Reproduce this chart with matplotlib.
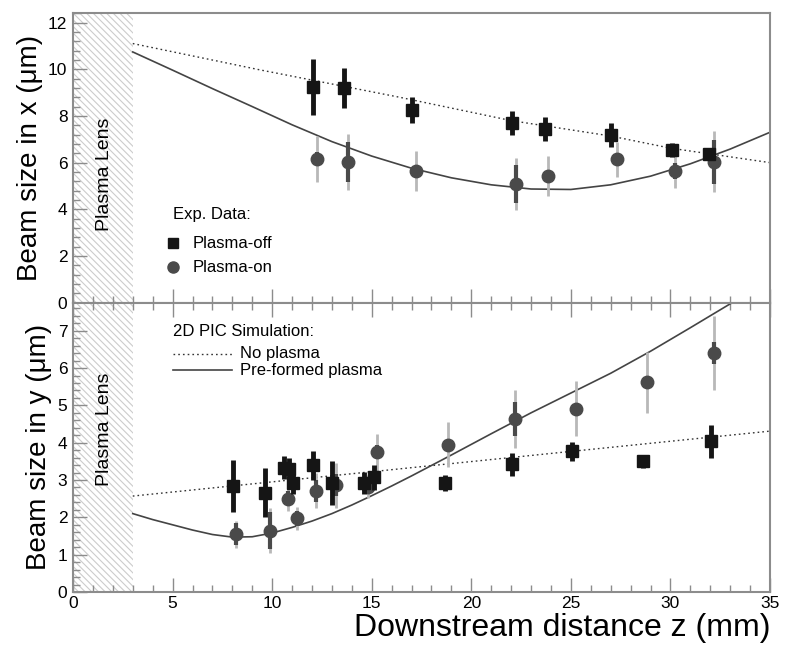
import numpy as np
import matplotlib.pyplot as plt
from matplotlib.ticker import MultipleLocator

plt.rcParams['font.family'] = ['Liberation Sans', 'DejaVu Sans']

# --- top panel: beam size in x ---
x_off_z = [12.06, 13.6, 17.0, 22.06, 23.7, 27.0, 30.1, 31.96]
x_off_y = [9.24, 9.2, 8.25, 7.7, 7.44, 7.18, 6.54, 6.36]
x_off_err = [1.2, 0.85, 0.55, 0.5, 0.5, 0.5, 0.3, 0.25]

x_on_z = [12.26, 13.8, 17.2, 22.26, 23.87, 27.3, 30.25, 32.2]
x_on_y = [6.16, 6.03, 5.64, 5.08, 5.43, 6.14, 5.63, 6.04]
x_on_err_sys = [0.97, 1.2, 0.85, 1.1, 0.85, 0.75, 0.7, 1.3]
x_on_err_stat = [0.3, 0.85, 0.2, 0.8, 0.25, 0.2, 0.35, 0.95]

x_sim_noplasma_z = [3, 9.4, 16.4, 22, 27, 30, 35]
x_sim_noplasma = [11.1, 9.97, 8.8, 7.8, 7.14, 6.62, 6.0]
x_sim_plasma_z = [3, 5, 7, 9, 11, 13, 15, 17, 19, 21, 23, 25, 27, 29, 31, 33, 35]
x_sim_plasma = [10.74, 9.96, 9.17, 8.4, 7.62, 6.9, 6.28, 5.76, 5.35, 5.05, 4.87, 4.85, 5.05, 5.42, 5.95, 6.58, 7.3]

# --- bottom panel: beam size in y ---
y_off_z = [8.05, 9.62, 10.6, 10.85, 11.05, 12.04, 13.0, 14.62, 15.12, 18.66, 22.05, 25.07, 28.64, 32.05]
y_off_y = [2.84, 2.66, 3.33, 3.3, 2.93, 3.4, 2.92, 2.92, 3.07, 2.92, 3.42, 3.77, 3.5, 4.04]
y_off_err = [0.7, 0.66, 0.3, 0.3, 0.3, 0.39, 0.58, 0.3, 0.33, 0.22, 0.3, 0.26, 0.18, 0.44]

y_on_z = [8.18, 9.87, 10.8, 11.24, 12.2, 13.23, 14.8, 15.24, 18.82, 22.2, 25.25, 28.8, 32.2]
y_on_y = [1.55, 1.64, 2.5, 1.97, 2.71, 2.86, 2.82, 3.75, 3.95, 4.63, 4.91, 5.62, 6.4]
y_on_err_sys = [0.36, 0.6, 0.34, 0.3, 0.47, 0.6, 0.31, 0.47, 0.6, 0.78, 0.73, 0.82, 1.0]
y_on_err_stat = [0.3, 0.5, 0.2, 0.2, 0.3, 0.3, 0.2, 0.2, 0.15, 0.45, 0.1, 0.1, 0.3]

y_sim_noplasma_z = [3, 35]
y_sim_noplasma = [2.57, 4.31]
y_sim_plasma_z = [3, 4, 5, 6, 7, 8, 9, 10, 11, 12, 13, 14, 15, 16, 17, 19, 21, 23, 25, 27, 29, 31, 33, 35]
y_sim_plasma = [2.1, 1.94, 1.8, 1.66, 1.54, 1.47, 1.48, 1.58, 1.73, 1.9, 2.1, 2.33, 2.58, 2.84, 3.11,
                3.67, 4.24, 4.8, 5.33, 5.86, 6.45, 7.08, 7.72, 8.35]

frame_col = '#8c8c8c'
sq_col = '#151515'
ci_col = '#4a4a4a'
light_col = '#b8b8b8'

fig = plt.figure(figsize=(7.87, 6.46), dpi=100)
ax1 = fig.add_axes([0.0928, 0.5314, 0.8856, 0.4489])
ax2 = fig.add_axes([0.0928, 0.0836, 0.8856, 0.4478])


def style_axis(ax, ymax, ymajor, yminor):
    ax.set_xlim(0, 35)
    ax.set_ylim(0, ymax)
    ax.xaxis.set_major_locator(MultipleLocator(5))
    ax.xaxis.set_minor_locator(MultipleLocator(1))
    ax.yaxis.set_major_locator(MultipleLocator(ymajor))
    ax.yaxis.set_minor_locator(MultipleLocator(yminor))
    ax.tick_params(which='both', direction='in', colors=frame_col, labelcolor='black',
                   labelsize=12.5, top=True, width=1)
    ax.tick_params(which='major', length=10)
    ax.tick_params(which='minor', length=5)
    ax.tick_params(axis='x', pad=3)
    ax.tick_params(axis='y', pad=4)
    for s in ax.spines.values():
        s.set_color(frame_col)
        s.set_linewidth(1.5)
    # hatched plasma lens region
    ax.axvspan(0, 3, facecolor='white', hatch='\\\\\\\\\\', edgecolor='#cccccc', linewidth=0, zorder=0)


plt.rcParams['hatch.linewidth'] = 0.8
style_axis(ax1, 12.42, 2, 0.4)
style_axis(ax2, 7.75, 1, 0.2)
ax1.tick_params(labelbottom=False, top=False, which='both')
ax2.tick_params(top=True, which='both')

# top panel
ax1.plot(x_sim_noplasma_z, x_sim_noplasma, color='#333333', lw=1, ls=(0, (1.2, 2.2)), zorder=2)
ax1.plot(x_sim_plasma_z, x_sim_plasma, color='#444444', lw=1.2, zorder=2)
ax1.errorbar(x_on_z, x_on_y, yerr=x_on_err_sys, fmt='none', ecolor=light_col, elinewidth=2, zorder=3)
ax1.errorbar(x_on_z, x_on_y, yerr=x_on_err_stat, fmt='none', ecolor=ci_col, elinewidth=3, zorder=4)
ax1.plot(x_on_z, x_on_y, 'o', color=ci_col, ms=9, mec=ci_col, zorder=5)
ax1.errorbar(x_off_z, x_off_y, yerr=x_off_err, fmt='none', ecolor=sq_col, elinewidth=3.5, zorder=6)
ax1.plot(x_off_z, x_off_y, 's', color=sq_col, ms=8.5, zorder=7)

# bottom panel
ax2.plot(y_sim_noplasma_z, y_sim_noplasma, color='#333333', lw=1, ls=(0, (1.2, 2.2)), zorder=2)
ax2.plot(y_sim_plasma_z, y_sim_plasma, color='#444444', lw=1.2, zorder=2)
ax2.errorbar(y_on_z, y_on_y, yerr=y_on_err_sys, fmt='none', ecolor=light_col, elinewidth=2, zorder=3)
ax2.errorbar(y_on_z, y_on_y, yerr=y_on_err_stat, fmt='none', ecolor=ci_col, elinewidth=3, zorder=4)
ax2.plot(y_on_z, y_on_y, 'o', color=ci_col, ms=9, mec=ci_col, zorder=5)
ax2.errorbar(y_off_z, y_off_y, yerr=y_off_err, fmt='none', ecolor=sq_col, elinewidth=3.5, zorder=6)
ax2.plot(y_off_z, y_off_y, 's', color=sq_col, ms=8.5, zorder=7)

# plasma lens labels
ax1.text(1.6, 5.5, 'Plasma Lens', rotation=90, ha='center', va='center', fontsize=14, zorder=8)
ax2.text(1.6, 4.36, 'Plasma Lens', rotation=90, ha='center', va='center', fontsize=14, zorder=8)

# legend in top panel
ax1.text(5.03, 3.76, 'Exp. Data:', fontsize=12, va='center')
ax1.plot([5.04], [2.54], 's', color=sq_col, ms=7.5)
ax1.text(6.03, 2.54, 'Plasma-off', fontsize=12, va='center')
ax1.plot([5.04], [1.52], 'o', color=ci_col, ms=8)
ax1.text(6.03, 1.52, 'Plasma-on', fontsize=12, va='center')

# legend in bottom panel
ax2.text(5.01, 6.99, '2D PIC Simulation:', fontsize=12, va='center')
ax2.plot([5.01, 7.97], [6.38, 6.38], color='#333333', lw=1, ls=(0, (1.2, 2.2)))
ax2.text(8.36, 6.38, 'No plasma', fontsize=12, va='center')
ax2.plot([5.01, 7.97], [5.94, 5.94], color='#444444', lw=1.2)
ax2.text(8.36, 5.94, 'Pre-formed plasma', fontsize=12, va='center')

ax1.set_ylabel('Beam size in x (μm)', fontsize=20, labelpad=4)
ax2.set_ylabel('Beam size in y (μm)', fontsize=20, labelpad=4)
ax2.set_xlabel('Downstream distance z (mm)', fontsize=23, ha='right', x=1.0, labelpad=1)

fig.savefig('out.png', dpi=100)
